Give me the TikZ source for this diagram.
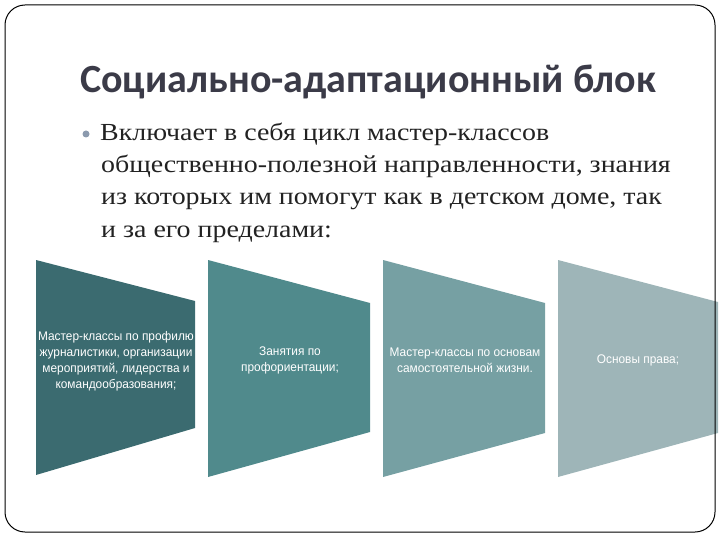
\documentclass[tikz,border=0pt]{standalone}
\usepackage{fontspec}
\setmainfont[FakeStretch=1.14]{Liberation Serif}
\newfontfamily\titlefont{Carlito}
\newfontfamily\narrowfont[FakeStretch=0.95]{Liberation Sans}
\definecolor{titlecol}{HTML}{3B3B48}
\definecolor{bodycol}{HTML}{222222}
\definecolor{bulletcol}{HTML}{8B9AAE}
\definecolor{cA}{HTML}{3B6B70}
\definecolor{cB}{HTML}{508A8C}
\definecolor{cC}{HTML}{76A0A3}
\definecolor{cD}{HTML}{9EB5B8}
\tikzset{
  bodyline/.style={anchor=base west, inner sep=0pt, text=bodycol, font=\fontsize{24.5}{28}\selectfont},
  boxtext/.style={text=white, align=center, inner sep=0pt, font=\narrowfont\fontsize{12.5}{16}\selectfont}
}
\begin{document}
\begin{tikzpicture}[x=1pt,y=-1pt]
\useasboundingbox (0,0) rectangle (720,540);
% title
\node[anchor=base west, inner sep=0pt, text=titlecol, font=\titlefont\bfseries\fontsize{40}{42}\selectfont] (title) at (80,93) {Социально-адаптационный блок};
% bullet
\fill[bulletcol] (86,134) circle (3.5);
\node[bodyline] (l1) at (100,141) {Включает в себя цикл мастер-классов};
\node[bodyline] (l2) at (101,173) {общественно-полезной направленности, знания};
\node[bodyline] (l3) at (101,205) {из которых им помогут как в детском доме, так};
\node[bodyline] (l4) at (101,237) {и за его пределами:};
% shapes
\fill[cA] (36,260) -- (195,301) -- (195,428) -- (36,475) -- cycle;
\fill[cB] (208,260) -- (370,303) -- (370,432) -- (208,477) -- cycle;
\fill[cC] (383,260) -- (545,303) -- (545,433) -- (383,477) -- cycle;
\fill[cD] (558,260) -- (718,302) -- (718,433) -- (558,477) -- cycle;
\node[boxtext] (t1) at (116,361) {Мастер-классы по профилю\\журналистики, организации\\мероприятий, лидерства и\\командообразования;};
\node[boxtext] (t2) at (290,360) {Занятия по\\профориентации;};
\node[boxtext] (t3) at (465,360) {Мастер-классы по основам\\самостоятельной жизни.};
\node[boxtext] (t4) at (638,360) {Основы права;};
% frame
\draw[rounded corners=20pt, line width=1pt] (5,5) rectangle (715,532);
\end{tikzpicture}
\end{document}
